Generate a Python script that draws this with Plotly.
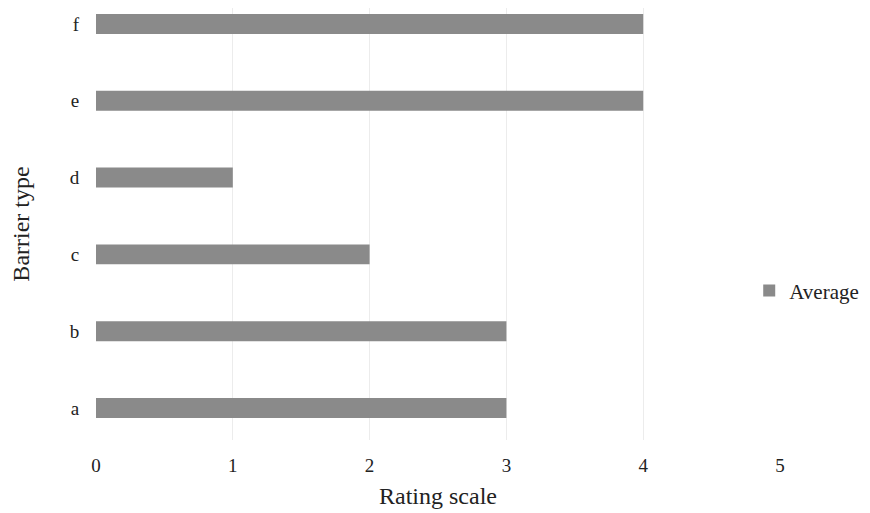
import plotly.graph_objects as go

categories = ["a", "b", "c", "d", "e", "f"]
average = [3, 3, 2, 1, 4, 4]
x_ticks = [0, 1, 2, 3, 4, 5]

fig = go.Figure()
fig.add_trace(go.Bar(
    y=categories, x=average, orientation="h", name="Average",
    marker=dict(color="#8a8a8a", line=dict(width=0)),
    width=0.26, showlegend=True,
))

font = "Liberation Serif, Times New Roman, serif"
fig.update_layout(
    width=862, height=505,
    margin=dict(l=88, r=90, t=0, b=73, autoexpand=False),
    paper_bgcolor="white", plot_bgcolor="white",
    font=dict(family=font, size=19, color="#222"),
    showlegend=True,
    legend=dict(x=0.955, xanchor="left", y=0.345, yanchor="middle",
                font=dict(size=21), itemwidth=30, bgcolor="rgba(0,0,0,0)"),
    xaxis=dict(range=[0, 5], tickvals=x_ticks, showgrid=True, gridcolor="#ececec",
               gridwidth=1, zeroline=False, showline=False,
               ticks="outside", ticklen=8, tickcolor="rgba(0,0,0,0)",
               tickfont=dict(size=19),
               title=dict(text="Rating scale", font=dict(size=24), standoff=12)),
    yaxis=dict(range=[-0.417, 5.208], type="category", showgrid=False, zeroline=False,
               showline=False, ticks="outside", ticklen=12, tickcolor="rgba(0,0,0,0)",
               tickfont=dict(size=19),
               title=dict(text="Barrier type", font=dict(size=24), standoff=39)),
)
fig.write_html("out.html")
